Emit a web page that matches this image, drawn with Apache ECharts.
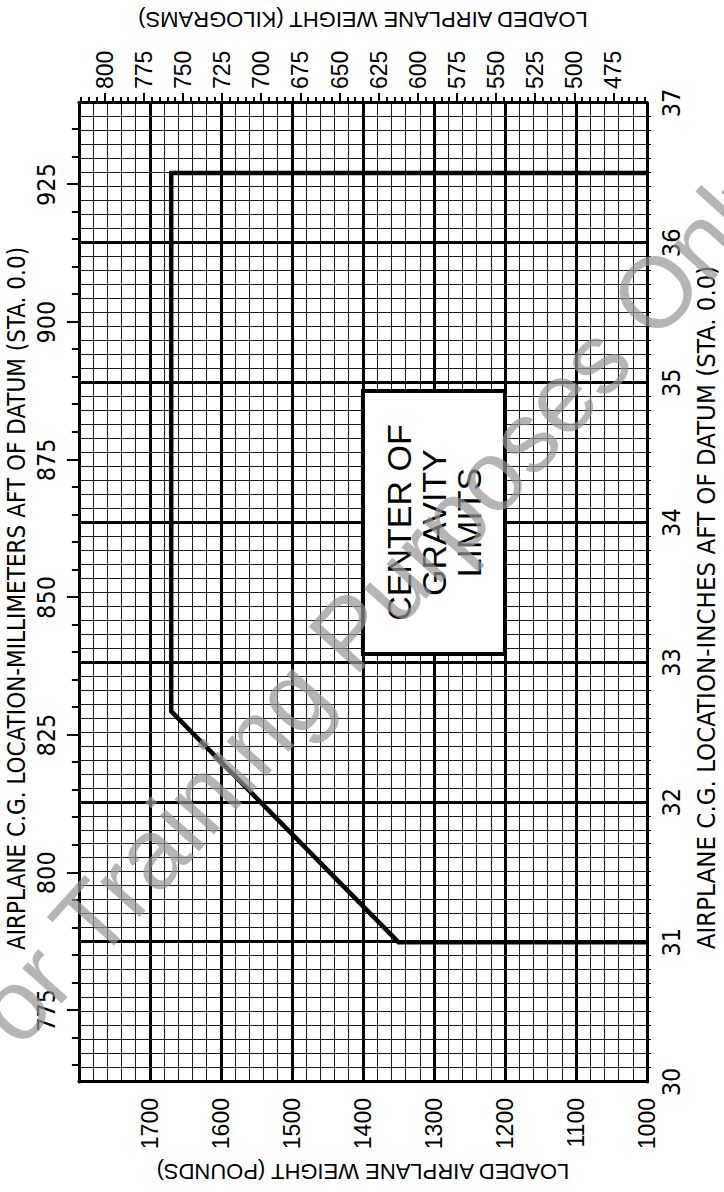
<!DOCTYPE html>
<html>
<head>
<meta charset="utf-8">
<script src="https://cdn.jsdelivr.net/npm/echarts@6/dist/echarts.min.js"></script>
<style>
  html, body { margin: 0; padding: 0; background: #fff; overflow: hidden; }
  /* chart is drawn landscape and turned a quarter turn to the left */
  #cg {
    position: absolute; left: 0; top: 0;
    width: 1192px; height: 724px;
    transform-origin: 0 0;
    transform: translate(0, 1192px) rotate(-90deg);
  }
</style>
</head>
<body>
<div id="cg"></div>
<script>
// envelope corners: C.G. (inches aft of datum) / weight (pounds)
var envInches = [31.0, 31.0, 32.65, 36.5, 36.5]
var envPounds = [1000, 1350, 1670, 1670, 1000]

// note box
var boxInches = [33.06, 34.94]
var boxPounds = [1200, 1400]

// tick labels
var inchLabels  = [30, 31, 32, 33, 34, 35, 36, 37]
var mmLabels    = [775, 800, 825, 850, 875, 900, 925]
var poundLabels = [1000, 1100, 1200, 1300, 1400, 1500, 1600, 1700]
var kgLabels    = [475, 500, 525, 550, 575, 600, 625, 650, 675, 700, 725, 750, 775, 800]

var LB_KG = 0.45359237
var IN_MM = 25.4

function range(a, b, step) {
	var r = []
	for (var v = a; v <= b + 1e-9; v += step) r.push(+v.toFixed(3))
	return r
}
function plain(v) { return String(Math.round(v)) }

var sans = 'Liberation Sans, Arial, Helvetica, sans-serif'
var narrow = 'Liberation Sans Narrow, DejaVu Sans Condensed, sans-serif'

var chart = echarts.init(document.getElementById('cg'), null, { renderer: 'svg' })

var option = {}
option.animation = false

option.grid = { left: 110, right: 102, top: 78, bottom: 77 }

option.xAxis = [{
	// inches
	type: 'value', position: 'bottom',
	min: 30, max: 37, interval: 1,
	name: 'AIRPLANE C.G. LOCATION-INCHES AFT OF DATUM (STA. 0.0)',
	nameLocation: 'middle', nameGap: 46,
	nameTextStyle: { fontFamily: narrow, fontSize: 25.6, color: '#000', padding: [0, 30, 0, 0] },
	axisLine: { show: true, lineStyle: { color: '#000', width: 3 } },
	axisTick: { show: false },
	minorTick: { show: true, splitNumber: 10, length: 4, lineStyle: { color: '#000', width: 1 } },
	axisLabel: { customValues: inchLabels, formatter: plain, margin: 12, fontFamily: narrow, fontSize: 25, color: '#000' },
	splitLine: { show: true, lineStyle: { color: '#000', width: 3 } },
	minorSplitLine: { show: true, lineStyle: { color: '#1a1a1a', width: 1 } }
}, {
	// millimetres, labels + long ticks
	type: 'value', position: 'top',
	min: 30 * IN_MM, max: 37 * IN_MM,
	name: 'AIRPLANE C.G. LOCATION-MILLIMETERS AFT OF DATUM (STA. 0.0)',
	nameLocation: 'middle', nameGap: 46,
	nameTextStyle: { fontFamily: narrow, fontSize: 24, color: '#000', padding: [0, 12, 0, 0] },
	axisLine: { show: true, lineStyle: { color: '#000', width: 3 } },
	axisTick: { show: true, customValues: mmLabels, length: 12, lineStyle: { color: '#000', width: 2 } },
	axisLabel: { customValues: mmLabels, formatter: plain, margin: 20, fontFamily: narrow, fontSize: 25, color: '#000' },
	splitLine: { show: false }
}, {
	// millimetres, short ticks
	type: 'value', position: 'top',
	min: 30 * IN_MM, max: 37 * IN_MM,
	axisLine: { show: false },
	axisTick: { show: true, customValues: range(765, 935, 5), length: 7, lineStyle: { color: '#000', width: 2 } },
	axisLabel: { show: false },
	splitLine: { show: false }
}]

option.yAxis = [{
	// pounds
	type: 'value', position: 'left',
	min: 1000, max: 1800, interval: 100,
	name: 'LOADED AIRPLANE WEIGHT (POUNDS)',
	nameLocation: 'middle', nameGap: 73, nameRotate: 90,
	nameTextStyle: { fontFamily: sans, fontSize: 22, color: '#000' },
	axisLine: { show: true, lineStyle: { color: '#000', width: 3 } },
	axisTick: { show: false },
	minorTick: { show: false, splitNumber: 5 },
	axisLabel: { customValues: poundLabels, formatter: plain, margin: 16, fontFamily: sans, fontSize: 23, color: '#000' },
	splitLine: { show: true, lineStyle: { color: '#000', width: 3 } },
	minorSplitLine: { show: true, lineStyle: { color: '#1a1a1a', width: 1 } }
}, {
	// kilograms, labels + long ticks
	type: 'value', position: 'right',
	min: 1000 * LB_KG, max: 1800 * LB_KG,
	name: 'LOADED AIRPLANE WEIGHT (KILOGRAMS)',
	nameLocation: 'middle', nameGap: 73, nameRotate: 90,
	nameTextStyle: { fontFamily: sans, fontSize: 22, color: '#000' },
	axisLine: { show: true, lineStyle: { color: '#000', width: 3 } },
	axisTick: { show: true, customValues: kgLabels, length: 10, lineStyle: { color: '#000', width: 2 } },
	axisLabel: { customValues: kgLabels, formatter: plain, margin: 14, fontFamily: sans, fontSize: 23, color: '#000' },
	splitLine: { show: false }
}, {
	// kilograms, short ticks
	type: 'value', position: 'right',
	min: 1000 * LB_KG, max: 1800 * LB_KG,
	axisLine: { show: false },
	axisTick: { show: true, customValues: range(455, 815, 5), length: 6, lineStyle: { color: '#000', width: 2 } },
	axisLabel: { show: false },
	splitLine: { show: false }
}]

option.series = [{
	type: 'line',
	xAxisIndex: 0, yAxisIndex: 0,
	data: envInches.map(function (v, i) { return [v, envPounds[i]] }),
	symbol: 'none',
	lineStyle: { color: '#000', width: 4.5, join: 'miter' },
	z: 5,
	markArea: {
		silent: true,
		itemStyle: { color: '#fff', borderColor: '#000', borderWidth: 4 },
		label: {
			show: true, position: 'inside',
			formatter: 'CENTER OF\nGRAVITY\nLIMITS',
			fontFamily: sans, fontSize: 34, lineHeight: 35, color: '#000', align: 'center'
		},
		data: [[{ coord: [boxInches[0], boxPounds[1]] }, { coord: [boxInches[1], boxPounds[0]] }]]
	}
}]

// training watermark
option.graphic = [{
	type: 'text',
	x: 572, y: 360,
	rotation: -42 * Math.PI / 180,
	z: 100,
	silent: true,
	style: {
		text: 'For Training Purposes Only',
		fontFamily: sans, fontSize: 100,
		fill: 'rgba(150,150,150,0.7)',
		align: 'center', verticalAlign: 'middle'
	}
}]

chart.setOption(option)
</script>
</body>
</html>
